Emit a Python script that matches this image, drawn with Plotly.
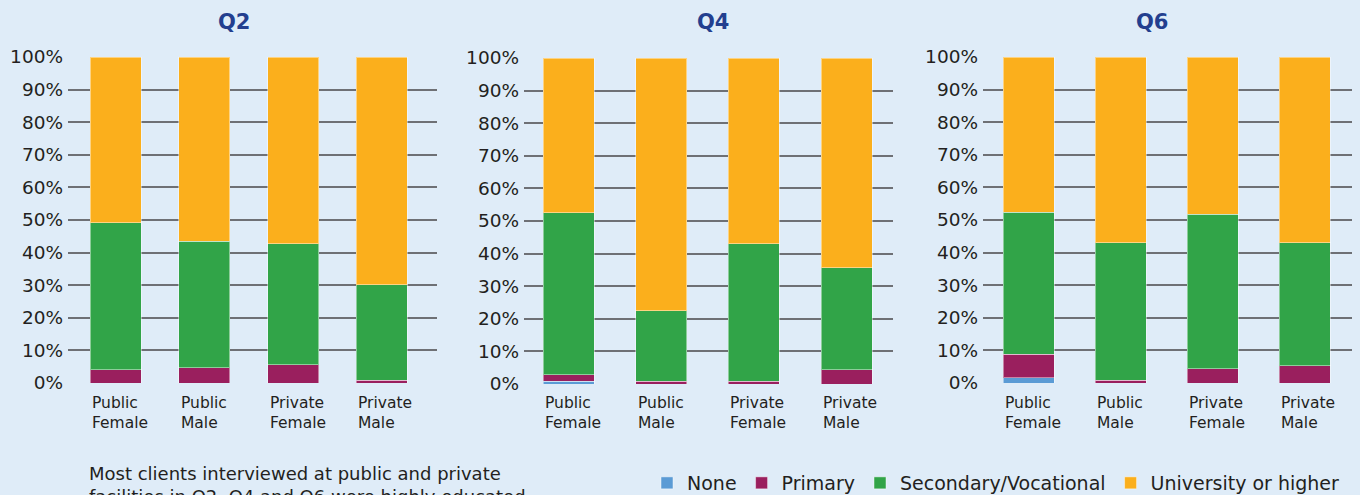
import plotly.graph_objects as go

categories = ["Public Female", "Public Male", "Private Female", "Private Male"]
tick_labels = ["Public<br>Female", "Public<br>Male", "Private<br>Female", "Private<br>Male"]
panels = ["Q2", "Q4", "Q6"]
series_names = ["None", "Primary", "Secondary/Vocational", "University or higher"]

none_q2 = [0, 0, 0, 0]
primary_q2 = [4.0, 4.7, 5.6, 0.8]
secondary_q2 = [45.2, 38.8, 37.1, 29.3]
university_q2 = [50.8, 56.5, 57.3, 69.9]

none_q4 = [0.9, 0, 0, 0]
primary_q4 = [2.0, 0.9, 0.9, 4.4]
secondary_q4 = [49.7, 21.5, 42.1, 31.2]
university_q4 = [47.4, 77.6, 57.0, 64.4]

none_q6 = [1.6, 0, 0, 0]
primary_q6 = [7.2, 0.8, 4.4, 5.3]
secondary_q6 = [43.6, 42.2, 47.4, 37.7]
university_q6 = [47.6, 57.0, 48.2, 57.0]

y_ticks = [0, 10, 20, 30, 40, 50, 60, 70, 80, 90, 100]
y_tick_text = [f"{v}%" for v in y_ticks]

data = {
    "Q2": [none_q2, primary_q2, secondary_q2, university_q2],
    "Q4": [none_q4, primary_q4, secondary_q4, university_q4],
    "Q6": [none_q6, primary_q6, secondary_q6, university_q6],
}

colors = ["#5B9BD5", "#9A1F5E", "#31A448", "#FBAF1C"]
BG = "#DFECF8"
FONT = "DejaVu Sans"
W, H = 1360, 495

# pixel layout of each panel: (left, right, top(100%), bottom(0%)), x range, bar width
panel_px = [
    (68, 437, 57, 383, [-0.535, 3.62], 0.574),
    (524, 893, 58, 384, [-0.48, 3.50], 0.55),
    (983, 1352, 57, 383, [-0.495, 3.516], 0.555),
]
title_x = [234, 713, 1152]

fig = go.Figure()
annotations = []
layout = {}
for i, q in enumerate(panels):
    sfx = "" if i == 0 else str(i + 1)
    left, right, top, bottom, xr, bw = panel_px[i]
    for k, name in enumerate(series_names):
        fig.add_trace(go.Bar(
            x=categories, y=data[q][k], name=name,
            marker=dict(color=colors[k], line=dict(color="rgba(255,255,255,0.45)", width=1)),
            width=bw, xaxis="x" + sfx, yaxis="y" + sfx,
            legendgroup=name, showlegend=(i == 0),
        ))
    layout["xaxis" + sfx] = dict(
        domain=[left / W, right / W], range=xr, anchor="y" + sfx,
        showticklabels=False, showgrid=False, zeroline=False, fixedrange=True,
        type="category", automargin=False,
    )
    layout["yaxis" + sfx] = dict(
        domain=[1 - bottom / H, 1 - top / H], range=[0, 100], anchor="x" + sfx,
        tickmode="array", tickvals=y_ticks, ticktext=y_tick_text,
        showgrid=True, gridcolor="#6E7075",
        gridwidth=1.6, zeroline=False, tickfont=dict(family=FONT, size=18.5, color="#231F20"),
        ticks="", ticklabelstandoff=4, automargin=False, fixedrange=True,
    )
    for c, lab in zip(categories, tick_labels):
        annotations.append(dict(
            x=c, xref="x" + sfx, y=1 - 392 / H, yref="paper", text=lab,
            xanchor="left", yanchor="top", align="left", showarrow=False,
            xshift=-bw * (right - left) / (xr[1] - xr[0]) / 2,
            font=dict(family=FONT, size=15.5, color="#231F20"),
        ))
    annotations.append(dict(
        x=title_x[i] / W, xref="paper", y=1 - 22 / H, yref="paper",
        text="<b>" + q + "</b>", showarrow=False, xanchor="center", yanchor="middle",
        font=dict(family=FONT, size=21, color="#233F8F"),
    ))

annotations.append(dict(
    x=87 / W, xref="paper", y=1 - 461 / H, yref="paper",
    text="Most clients interviewed at public and private<br>facilities in Q2, Q4 and Q6 were highly educated.",
    showarrow=False, xanchor="left", yanchor="top", align="left",
    font=dict(family=FONT, size=18, color="#231F20"),
))

fig.update_layout(
    width=W, height=H, margin=dict(l=0, r=0, t=0, b=0, autoexpand=False),
    paper_bgcolor=BG, plot_bgcolor=BG, barmode="stack",
    annotations=annotations,
    legend=dict(orientation="h", x=1345 / W, xanchor="right", y=1 - 483 / H, yanchor="middle",
                font=dict(family=FONT, size=19, color="#231F20"), bgcolor="rgba(0,0,0,0)",
                traceorder="normal", itemwidth=30),
    **layout,
)

fig.write_html("out.html", config={"displayModeBar": False},
               post_script="document.body.style.margin='0';")
